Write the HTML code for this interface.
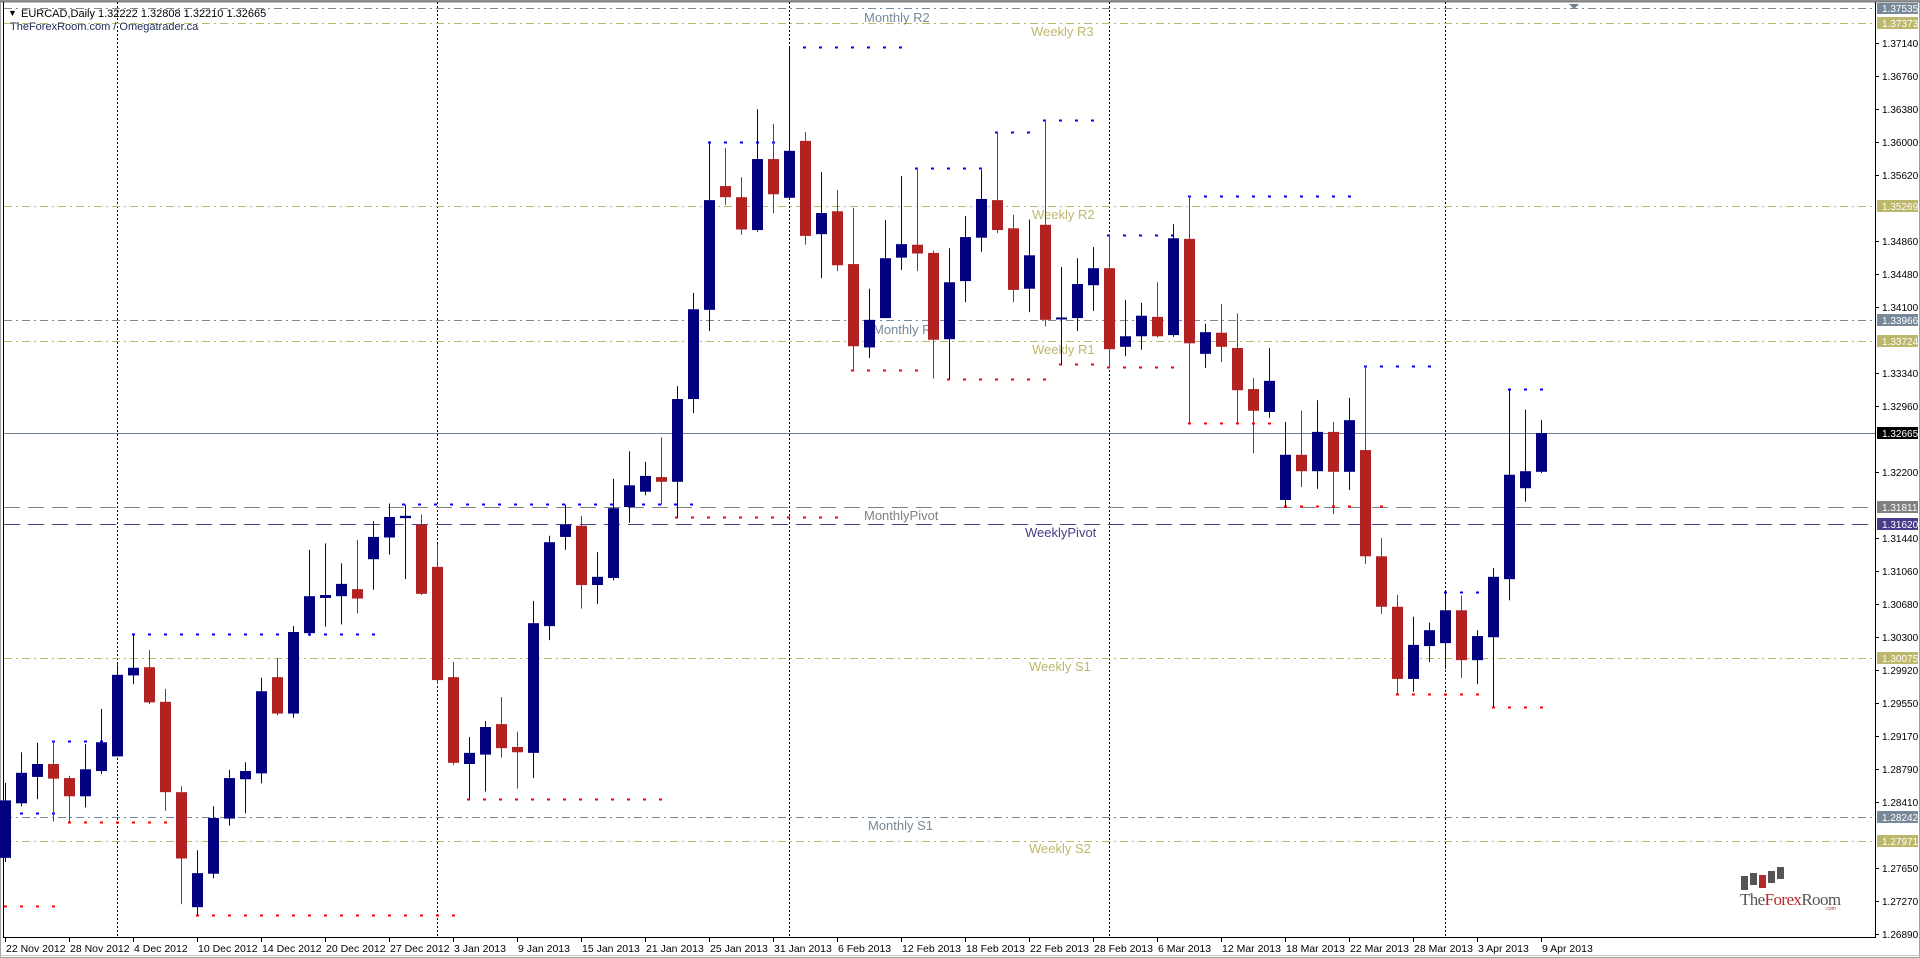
<!DOCTYPE html>
<html><head><meta charset="utf-8">
<style>
html,body{margin:0;padding:0;background:#fff;width:1920px;height:958px;overflow:hidden}
svg{display:block;font-family:"Liberation Sans",sans-serif}
</style></head>
<body>
<svg id="c" width="1920" height="958" viewBox="0 0 1920 958" xmlns="http://www.w3.org/2000/svg">
<rect x="0" y="0" width="1920" height="958" fill="#fff"/>
<!-- frame -->
<rect x="0.5" y="0.5" width="1919" height="957" fill="none" stroke="#a0a0a0"/>
<line x1="0" y1="1.5" x2="1920" y2="1.5" stroke="#808080" stroke-width="2"/>
<line x1="3.5" y1="2" x2="3.5" y2="938" stroke="#000"/>
<line x1="1875.5" y1="2" x2="1875.5" y2="938" stroke="#000"/>
<line x1="3" y1="937.5" x2="1876" y2="937.5" stroke="#000"/>
<line x1="0" y1="955.5" x2="1920" y2="955.5" stroke="#c8c8c8"/>

<!-- vertical period separators -->
<g stroke="#000" stroke-dasharray="2 2" stroke-width="1">
<line x1="117.5" y1="2" x2="117.5" y2="937"/>
<line x1="437.5" y1="2" x2="437.5" y2="937"/>
<line x1="789.5" y1="2" x2="789.5" y2="937"/>
<line x1="1109.5" y1="2" x2="1109.5" y2="937"/>
<line x1="1445.5" y1="2" x2="1445.5" y2="937"/>
</g>

<!-- horizontal levels -->
<g stroke-width="1" fill="none">
<line x1="4" y1="8.5" x2="1875" y2="8.5" stroke="#778899" stroke-dasharray="8 4 2 4"/>
<line x1="4" y1="23.5" x2="1875" y2="23.5" stroke="#BDB76B" stroke-dasharray="8 4 2 4"/>
<line x1="4" y1="206.5" x2="1875" y2="206.5" stroke="#BDB76B" stroke-dasharray="8 4 2 4"/>
<line x1="4" y1="320.5" x2="1875" y2="320.5" stroke="#778899" stroke-dasharray="8 4 2 4"/>
<line x1="4" y1="341.5" x2="1875" y2="341.5" stroke="#BDB76B" stroke-dasharray="8 4 2 4"/>
<line x1="4" y1="433.5" x2="1875" y2="433.5" stroke="#708090"/>
<line x1="4" y1="507.5" x2="1875" y2="507.5" stroke="#808080" stroke-dasharray="16 8"/>
<line x1="4" y1="524.5" x2="1875" y2="524.5" stroke="#483D8B" stroke-dasharray="16 8"/>
<line x1="4" y1="658.5" x2="1875" y2="658.5" stroke="#BDB76B" stroke-dasharray="8 4 2 4"/>
<line x1="4" y1="817.5" x2="1875" y2="817.5" stroke="#778899" stroke-dasharray="8 4 2 4"/>
<line x1="4" y1="841.5" x2="1875" y2="841.5" stroke="#BDB76B" stroke-dasharray="8 4 2 4"/>
</g>

<!-- level labels -->
<g font-size="13">
<text x="864" y="22" fill="#778899">Monthly R2</text>
<text x="1031" y="36" fill="#BDB76B">Weekly R3</text>
<text x="1032" y="219" fill="#BDB76B">Weekly R2</text>
<text x="873" y="334" fill="#778899">Monthly R1</text>
<text x="1032" y="354" fill="#BDB76B">Weekly R1</text>
<text x="864" y="520" fill="#808080">MonthlyPivot</text>
<text x="1025" y="537" fill="#483D8B">WeeklyPivot</text>
<text x="1029" y="671" fill="#BDB76B">Weekly S1</text>
<text x="868" y="830" fill="#778899">Monthly S1</text>
<text x="1029" y="853" fill="#BDB76B">Weekly S2</text>
</g>

<g id="dots" stroke-width="2" stroke-dasharray="3 13"></g>
<g id="candles"></g>

<!-- header -->
<g font-size="11" fill="#000">
<text x="8" y="16" font-size="9">▼</text>
<text x="21" y="17">EURCAD,Daily  1.32222 1.32808 1.32210 1.32665</text>
<text x="10" y="30" fill="#1c2a55">TheForexRoom.com / Omegatrader.ca</text>
</g>
<polygon points="1569,4 1579,4 1574,9" fill="#708090"/>

<!-- logo -->
<g>
<rect x="1741" y="876" width="7" height="14" fill="#555"/>
<rect x="1750" y="873" width="7" height="12" fill="#555"/>
<rect x="1759" y="875" width="7" height="13" fill="#b22a2a"/>
<rect x="1768" y="871" width="7" height="12" fill="#555"/>
<rect x="1777" y="867" width="7" height="12" fill="#555"/>
<text x="1740" y="905" font-family="Liberation Serif,serif" font-size="17" fill="#555" letter-spacing="-0.6">The<tspan fill="#b22a2a">Forex</tspan>Room</text>
<text x="1825" y="910" font-size="5" fill="#b22a2a">.com</text>
</g>

<!-- price axis ticks -->
<g stroke="#000">
<line x1="1875" y1="43.5" x2="1879" y2="43.5"/><line x1="1875" y1="76.5" x2="1879" y2="76.5"/><line x1="1875" y1="109.5" x2="1879" y2="109.5"/><line x1="1875" y1="142.5" x2="1879" y2="142.5"/><line x1="1875" y1="175.5" x2="1879" y2="175.5"/><line x1="1875" y1="241.5" x2="1879" y2="241.5"/><line x1="1875" y1="274.5" x2="1879" y2="274.5"/><line x1="1875" y1="307.5" x2="1879" y2="307.5"/><line x1="1875" y1="373.5" x2="1879" y2="373.5"/><line x1="1875" y1="406.5" x2="1879" y2="406.5"/><line x1="1875" y1="472.5" x2="1879" y2="472.5"/><line x1="1875" y1="538.5" x2="1879" y2="538.5"/><line x1="1875" y1="571.5" x2="1879" y2="571.5"/><line x1="1875" y1="604.5" x2="1879" y2="604.5"/><line x1="1875" y1="637.5" x2="1879" y2="637.5"/><line x1="1875" y1="670.5" x2="1879" y2="670.5"/><line x1="1875" y1="703.5" x2="1879" y2="703.5"/><line x1="1875" y1="736.5" x2="1879" y2="736.5"/><line x1="1875" y1="769.5" x2="1879" y2="769.5"/><line x1="1875" y1="802.5" x2="1879" y2="802.5"/><line x1="1875" y1="868.5" x2="1879" y2="868.5"/><line x1="1875" y1="901.5" x2="1879" y2="901.5"/><line x1="1875" y1="934.5" x2="1879" y2="934.5"/>
</g>
<g font-size="10" fill="#000">
<text x="1882" y="47">1.37140</text><text x="1882" y="80">1.36760</text><text x="1882" y="113">1.36380</text><text x="1882" y="146">1.36000</text><text x="1882" y="179">1.35620</text><text x="1882" y="245">1.34860</text><text x="1882" y="278">1.34480</text><text x="1882" y="311">1.34100</text><text x="1882" y="377">1.33340</text><text x="1882" y="410">1.32960</text><text x="1882" y="476">1.32200</text><text x="1882" y="542">1.31440</text><text x="1882" y="575">1.31060</text><text x="1882" y="608">1.30680</text><text x="1882" y="641">1.30300</text><text x="1882" y="674">1.29920</text><text x="1882" y="707">1.29550</text><text x="1882" y="740">1.29170</text><text x="1882" y="773">1.28790</text><text x="1882" y="806">1.28410</text><text x="1882" y="872">1.27650</text><text x="1882" y="905">1.27270</text><text x="1882" y="938">1.26890</text>
</g>
<!-- level boxes -->
<g font-size="10" fill="#fff">
<rect x="1877" y="3" width="41" height="11" fill="#778899"/><text x="1882" y="12">1.37535</text>
<rect x="1877" y="17" width="41" height="12" fill="#BDB76B"/><text x="1882" y="27">1.37373</text>
<rect x="1877" y="200" width="41" height="12" fill="#BDB76B"/><text x="1882" y="210">1.35269</text>
<rect x="1877" y="314" width="41" height="12" fill="#778899"/><text x="1882" y="324">1.33966</text>
<rect x="1877" y="335" width="41" height="12" fill="#BDB76B"/><text x="1882" y="345">1.33724</text>
<rect x="1877" y="427" width="41" height="12" fill="#000"/><text x="1882" y="437">1.32665</text>
<rect x="1877" y="501" width="41" height="12" fill="#808080"/><text x="1882" y="511">1.31811</text>
<rect x="1877" y="518" width="41" height="12" fill="#483D8B"/><text x="1882" y="528">1.31620</text>
<rect x="1877" y="652" width="41" height="12" fill="#BDB76B"/><text x="1882" y="662">1.30075</text>
<rect x="1877" y="811" width="41" height="12" fill="#778899"/><text x="1882" y="821">1.28242</text>
<rect x="1877" y="835" width="41" height="12" fill="#BDB76B"/><text x="1882" y="845">1.27971</text>
</g>

<!-- time axis -->
<g font-size="10.5" fill="#000">
<text x="6" y="952">22 Nov 2012</text><text x="70" y="952">28 Nov 2012</text><text x="134" y="952">4 Dec 2012</text><text x="198" y="952">10 Dec 2012</text><text x="262" y="952">14 Dec 2012</text><text x="326" y="952">20 Dec 2012</text><text x="390" y="952">27 Dec 2012</text><text x="454" y="952">3 Jan 2013</text><text x="518" y="952">9 Jan 2013</text><text x="582" y="952">15 Jan 2013</text><text x="646" y="952">21 Jan 2013</text><text x="710" y="952">25 Jan 2013</text><text x="774" y="952">31 Jan 2013</text><text x="838" y="952">6 Feb 2013</text><text x="902" y="952">12 Feb 2013</text><text x="966" y="952">18 Feb 2013</text><text x="1030" y="952">22 Feb 2013</text><text x="1094" y="952">28 Feb 2013</text><text x="1158" y="952">6 Mar 2013</text><text x="1222" y="952">12 Mar 2013</text><text x="1286" y="952">18 Mar 2013</text><text x="1350" y="952">22 Mar 2013</text><text x="1414" y="952">28 Mar 2013</text><text x="1478" y="952">3 Apr 2013</text><text x="1542" y="952">9 Apr 2013</text>
</g>
<g id="tt" stroke="#000"></g>
</svg>
<script>
var NS="http://www.w3.org/2000/svg";
function el(p,t,a){var e=document.createElementNS(NS,t);for(var k in a)e.setAttribute(k,a[k]);p.appendChild(e);return e;}
var D=[
"b 1330 1428 1300 1435","b 1283 1335 1248 1340","b 1268 1290 1232 1328","r 1268 1293 1228 1366","r 1292 1323 1288 1366",
"b 1277 1323 1234 1342","b 1231 1280 1174 1285","b 1116 1255 1098 1255","b 1104 1117 1046 1132","r 1103 1163 1074 1166",
"r 1162 1316 1140 1348","r 1316 1429 1306 1507","b 1454 1512 1415 1526","b 1360 1455 1340 1463","b 1292 1361 1278 1373",
"b 1280 1294 1265 1352","b 1144 1284 1121 1301","r 1120 1182 1088 1185","b 1043 1182 1033 1189","b 982 1045 903 1050",
"b 980 985 892 1034","b 961 982 926 1030","r 970 986 886 1011","b 881 919 854 971","b 847 882 824 911",
"b 845 849 826 953","r 860 978 843 980","r 932 1125 893 1132","r 1120 1266 1094 1270","b 1249 1268 1222 1327",
"b 1205 1252 1195 1315","r 1200 1241 1154 1257","r 1239 1248 1213 1310","b 1028 1249 990 1292","b 890 1033 879 1057",
"b 860 881 826 903","r 862 963 845 1003","b 949 963 907 995","b 832 951 782 955","b 793 830 735 857",
"b 777 804 753 810","r 779 787 711 826","b 646 787 624 848","b 493 646 465 670","b 307 494 207 530",
"r 283 302 218 315","r 302 357 268 366","b 237 358 152 361","r 237 297 177 329","b 223 303 46 303",
"r 206 368 191 383","b 329 365 259 440","r 326 418 290 428","r 416 556 320 596","b 511 558 458 576",
"b 406 508 341 508","b 382 405 266 426","r 383 398 252 428","r 397 545 393 611","b 447 544 389 612",
"b 370 445 334 481","b 305 371 256 395","r 307 358 190 363","r 355 460 332 481","b 401 458 340 498",
"r 349 511 171 522","b 507 510 421 587","b 450 508 406 530","b 423 452 387 496","r 423 561 365 592",
"b 539 557 477 573","b 504 539 482 562","r 506 539 447 541","b 372 537 348 540","r 373 551 300 688",
"b 532 569 518 593","r 533 557 484 583","r 559 631 500 688","r 629 666 610 738","b 615 668 559 678",
"b 741 818 685 831","r 741 769 666 796","b 702 769 648 799","r 702 770 685 842","b 682 770 644 801",
"r 733 914 589 927","r 914 1000 883 1012","r 1000 1123 980 1150","b 1065 1123 1017 1145","b 1040 1067 1027 1094",
"b 1006 1062 974 1106","r 1006 1091 981 1121","b 1050 1091 1040 1132","b 949 1052 934 1171","b 775 953 628 989",
"b 769 798 664 821","b 704 770 682 772"];
function Y(z){return 20+z/1.7043;}
var g=document.getElementById("candles");
D.forEach(function(s,i){var p=s.split(" ");var c=p[0]=="b"?"#000080":"#B22222";
var x=Math.round(5.3+16*i);var bt=Y(+p[1]),bb=Y(+p[2]),wt=Y(+p[3]),wb=Y(+p[4]);
if(bb-bt<2){bb=bt+2;}
el(g,"rect",{x:x,y:wt,width:1,height:Math.max(1,wb-wt),fill:c});
el(g,"rect",{x:x-5,y:bt,width:11,height:bb-bt,fill:c});});
var dots=[["b",740.6,53,101],["b",812.7,21,53],["r",821.5,69,165],["r",906,5,53],["b",633.8,133,373],["r",915,197,453],
["b",504,403,693],["r",799,468,661],["r",517,676,837],["b",141.5,709,773],["b",47,804,901],
["b",168,916,980],["r",370,852,916],["r",378.5,948,1044],["b",131.5,996,1028],["b",120,1044,1092],["r",364,1060,1092],
["b",235,1108,1173],["r",367,1108,1173],["b",196,1189,1349],["r",423,1189,1269],["r",506.4,1285,1381],["b",365.6,1365,1429],
["b",591.5,1445,1477],["r",693.6,1397,1477],["b",388.5,1509,1541],["r",707,1493,1541]];
var dg=document.getElementById("dots");
dots.forEach(function(d){el(dg,"line",{x1:d[2]-1,y1:Math.round(d[1])+0.5,x2:d[3]+3,y2:Math.round(d[1])+0.5,stroke:d[0]=="b"?"#0000ff":"#ff0000"});});
var tt=document.getElementById("tt");
for(var k=0;k<25;k++){var x=Math.round(5.3+64*k)+0.5;el(tt,"line",{x1:x,y1:938,x2:x,y2:942});}
</script>
</body></html>
